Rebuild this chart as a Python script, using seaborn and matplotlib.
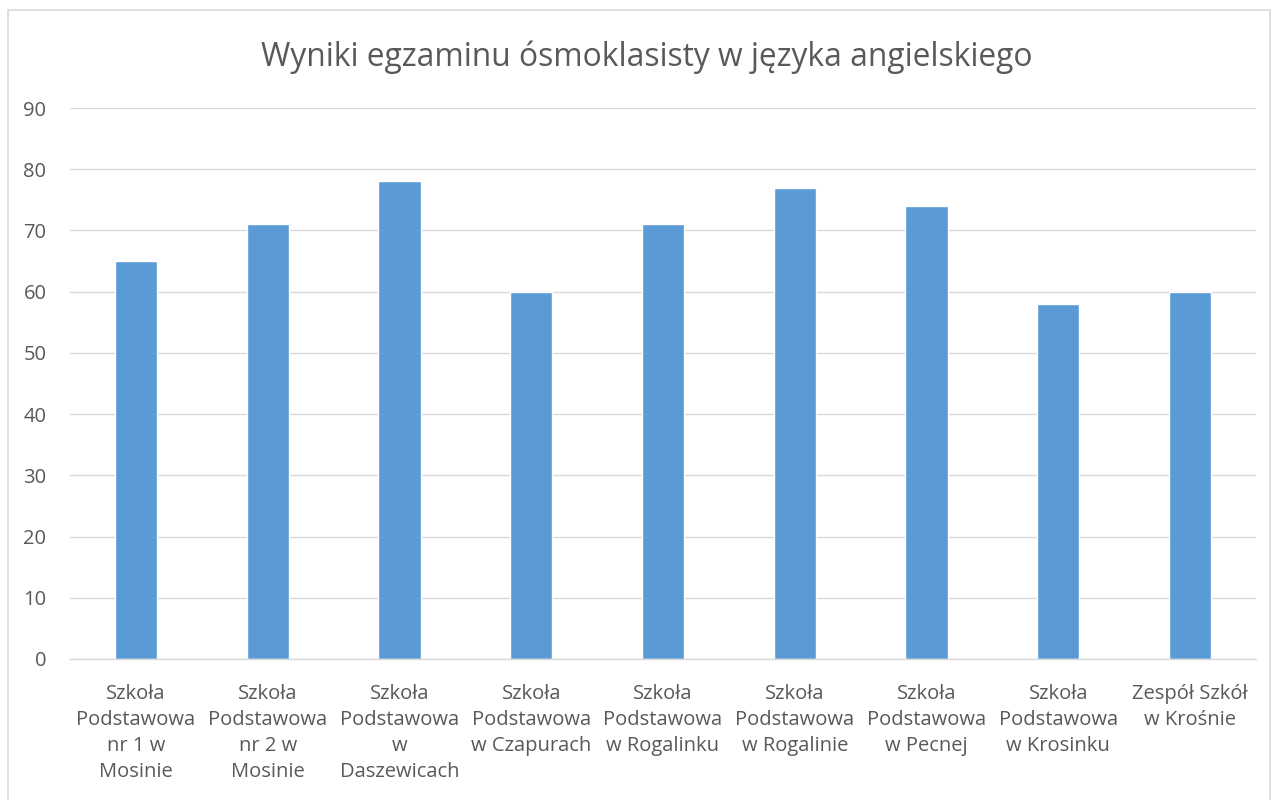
import matplotlib
matplotlib.use("Agg")
import matplotlib.pyplot as plt
import seaborn as sns
import pandas as pd
from matplotlib.patches import Rectangle

schools = [
    "Szkoła\nPodstawowa\nnr 1 w\nMosinie",
    "Szkoła\nPodstawowa\nnr 2 w\nMosinie",
    "Szkoła\nPodstawowa\nw\nDaszewicach",
    "Szkoła\nPodstawowa\nw Czapurach",
    "Szkoła\nPodstawowa\nw Rogalinku",
    "Szkoła\nPodstawowa\nw Rogalinie",
    "Szkoła\nPodstawowa\nw Pecnej",
    "Szkoła\nPodstawowa\nw Krosinku",
    "Zespół Szkół\nw Krośnie",
]
scores = [65, 71, 78, 60, 71, 77, 74, 58, 60]
yticks = [0, 10, 20, 30, 40, 50, 60, 70, 80, 90]

df = pd.DataFrame({"school": schools, "score": scores})

sns.set_theme(style="white")
plt.rcParams["font.family"] = ["Open Sans", "DejaVu Sans"]

fig = plt.figure(figsize=(12.76, 8), dpi=100)
ax = fig.add_axes([70 / 1276, 1 - 659 / 800, (1256 - 70) / 1276, (659 - 108) / 800])

sns.barplot(data=df, x="school", y="score", color="#5B9BD5", saturation=1,
            width=0.32, ax=ax)

ax.set_ylim(0, 90)
ax.set_yticks(yticks)
ax.set_xlim(-0.5, len(schools) - 0.5)
ax.yaxis.grid(True, color="#D9D9D9", linewidth=1)
ax.set_axisbelow(True)
for s in ["top", "right", "left"]:
    ax.spines[s].set_visible(False)
ax.spines["bottom"].set_color("#D9D9D9")
ax.spines["bottom"].set_linewidth(1)
ax.tick_params(axis="both", length=0, colors="#595959", labelsize=14.5)
ax.tick_params(axis="y", pad=17)
ax.tick_params(axis="x", pad=18)
for lbl in ax.get_xticklabels():
    lbl.set_linespacing(1.4)
ax.set_xlabel("")
ax.set_ylabel("")

fig.text(647 / 1276, 1 - 57 / 800, "Wyniki egzaminu ósmoklasisty w języka angielskiego",
         ha="center", va="center", fontsize=22.9, color="#595959")

fig.patches.append(Rectangle((8 / 1276, -0.01), 1262 / 1276, 1 - 10 / 800 + 0.01,
                             transform=fig.transFigure, fill=False,
                             edgecolor="#D9D9D9", linewidth=1.2))

fig.savefig("out.png", dpi=100)
